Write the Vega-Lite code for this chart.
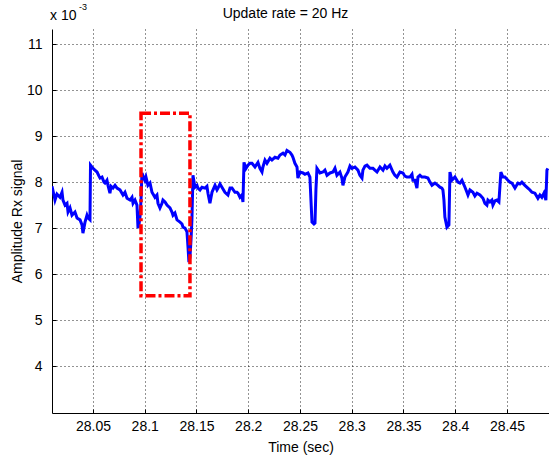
{
  "$schema": "https://vega.github.io/schema/vega-lite/v6.json",
  "width": 497,
  "height": 384,
  "autosize": {"type": "none"},
  "padding": {"left": 52, "top": 29, "right": 0, "bottom": 46},
  "background": "white",
  "config": {
    "view": {"stroke": null},
    "axis": {
      "labelFont": "Liberation Sans", "labelFontSize": 14, "labelColor": "black",
      "titleFont": "Liberation Sans", "titleFontSize": 14, "titleFontWeight": "normal", "titleColor": "black",
      "domainColor": "black", "domainWidth": 1,
      "tickColor": "black", "tickSize": -4, "tickWidth": 1,
      "grid": true, "gridColor": "#000000", "gridDash": [1, 3], "gridWidth": 1, "gridOpacity": 0.85
    }
  },
  "layer": [
    {
      "data": {"values": [
        {"time": 28.0104, "amp": 7.91}, {"time": 28.0123, "amp": 7.72}, {"time": 28.0133, "amp": 7.61}, {"time": 28.0152, "amp": 7.74},
        {"time": 28.0181, "amp": 7.67}, {"time": 28.0201, "amp": 7.78}, {"time": 28.021, "amp": 7.61}, {"time": 28.023, "amp": 7.5},
        {"time": 28.0249, "amp": 7.54}, {"time": 28.0259, "amp": 7.35}, {"time": 28.0278, "amp": 7.44}, {"time": 28.0297, "amp": 7.28},
        {"time": 28.0326, "amp": 7.35}, {"time": 28.0346, "amp": 7.22}, {"time": 28.0375, "amp": 7.18}, {"time": 28.0394, "amp": 7.07},
        {"time": 28.0403, "amp": 6.89}, {"time": 28.0423, "amp": 7.13}, {"time": 28.0442, "amp": 7.28}, {"time": 28.0452, "amp": 7.22},
        {"time": 28.0471, "amp": 7.18}, {"time": 28.0476, "amp": 8.37}, {"time": 28.05, "amp": 8.3}, {"time": 28.0519, "amp": 8.26},
        {"time": 28.0539, "amp": 8.22}, {"time": 28.0558, "amp": 8.13}, {"time": 28.0568, "amp": 8.09}, {"time": 28.0587, "amp": 8.11},
        {"time": 28.0606, "amp": 8.0}, {"time": 28.0616, "amp": 7.98}, {"time": 28.0635, "amp": 8.04}, {"time": 28.0645, "amp": 7.93},
        {"time": 28.0664, "amp": 7.76}, {"time": 28.0674, "amp": 7.91}, {"time": 28.0693, "amp": 7.87}, {"time": 28.0713, "amp": 7.93},
        {"time": 28.0732, "amp": 7.87}, {"time": 28.0761, "amp": 7.83}, {"time": 28.078, "amp": 7.76}, {"time": 28.079, "amp": 7.72},
        {"time": 28.0809, "amp": 7.78}, {"time": 28.0829, "amp": 7.65}, {"time": 28.0858, "amp": 7.61}, {"time": 28.0877, "amp": 7.67},
        {"time": 28.0887, "amp": 7.54}, {"time": 28.0906, "amp": 7.61}, {"time": 28.0925, "amp": 7.5}, {"time": 28.0935, "amp": 7.0},
        {"time": 28.0944, "amp": 7.07}, {"time": 28.0954, "amp": 7.24}, {"time": 28.0964, "amp": 7.61}, {"time": 28.0973, "amp": 8.2},
        {"time": 28.1002, "amp": 8.04}, {"time": 28.1012, "amp": 8.11}, {"time": 28.1031, "amp": 7.93}, {"time": 28.1051, "amp": 7.98},
        {"time": 28.107, "amp": 7.78}, {"time": 28.1099, "amp": 7.67}, {"time": 28.1118, "amp": 7.72}, {"time": 28.1128, "amp": 7.54},
        {"time": 28.1147, "amp": 7.44}, {"time": 28.1167, "amp": 7.54}, {"time": 28.1176, "amp": 7.61}, {"time": 28.1196, "amp": 7.57},
        {"time": 28.1215, "amp": 7.5}, {"time": 28.1244, "amp": 7.44}, {"time": 28.1263, "amp": 7.35}, {"time": 28.1273, "amp": 7.28},
        {"time": 28.1292, "amp": 7.33}, {"time": 28.1312, "amp": 7.18}, {"time": 28.1341, "amp": 7.13}, {"time": 28.136, "amp": 7.09},
        {"time": 28.137, "amp": 7.02}, {"time": 28.1389, "amp": 7.0}, {"time": 28.1408, "amp": 6.92}, {"time": 28.1418, "amp": 6.59},
        {"time": 28.1427, "amp": 6.26}, {"time": 28.1437, "amp": 6.37}, {"time": 28.1447, "amp": 6.74}, {"time": 28.1456, "amp": 7.18},
        {"time": 28.1466, "amp": 8.15}, {"time": 28.1485, "amp": 7.89}, {"time": 28.1505, "amp": 7.93}, {"time": 28.1514, "amp": 7.87},
        {"time": 28.1534, "amp": 7.83}, {"time": 28.1553, "amp": 7.89}, {"time": 28.1582, "amp": 7.87}, {"time": 28.1601, "amp": 7.91},
        {"time": 28.1611, "amp": 7.76}, {"time": 28.163, "amp": 7.54}, {"time": 28.165, "amp": 7.78}, {"time": 28.1679, "amp": 7.93},
        {"time": 28.1698, "amp": 7.83}, {"time": 28.1708, "amp": 7.87}, {"time": 28.1727, "amp": 7.96}, {"time": 28.1746, "amp": 7.89},
        {"time": 28.1775, "amp": 7.78}, {"time": 28.1804, "amp": 7.72}, {"time": 28.1824, "amp": 7.87}, {"time": 28.1843, "amp": 7.87},
        {"time": 28.1872, "amp": 7.78}, {"time": 28.1891, "amp": 7.78}, {"time": 28.1901, "amp": 7.76}, {"time": 28.192, "amp": 7.67},
        {"time": 28.1939, "amp": 7.72}, {"time": 28.1949, "amp": 7.57}, {"time": 28.1959, "amp": 8.43}, {"time": 28.1978, "amp": 8.3},
        {"time": 28.1997, "amp": 8.37}, {"time": 28.2017, "amp": 8.41}, {"time": 28.2036, "amp": 8.41}, {"time": 28.2065, "amp": 8.33},
        {"time": 28.2094, "amp": 8.43}, {"time": 28.2113, "amp": 8.3}, {"time": 28.2133, "amp": 8.22}, {"time": 28.2142, "amp": 8.33},
        {"time": 28.2162, "amp": 8.48}, {"time": 28.2181, "amp": 8.41}, {"time": 28.221, "amp": 8.52}, {"time": 28.2229, "amp": 8.48},
        {"time": 28.2258, "amp": 8.54}, {"time": 28.2287, "amp": 8.52}, {"time": 28.2307, "amp": 8.59}, {"time": 28.2336, "amp": 8.63},
        {"time": 28.2355, "amp": 8.59}, {"time": 28.2374, "amp": 8.69}, {"time": 28.2403, "amp": 8.65}, {"time": 28.2422, "amp": 8.59},
        {"time": 28.2432, "amp": 8.54}, {"time": 28.2451, "amp": 8.41}, {"time": 28.2471, "amp": 8.33}, {"time": 28.248, "amp": 8.09},
        {"time": 28.25, "amp": 8.22}, {"time": 28.2529, "amp": 8.2}, {"time": 28.2548, "amp": 8.17}, {"time": 28.2577, "amp": 8.2},
        {"time": 28.2596, "amp": 8.11}, {"time": 28.2606, "amp": 7.61}, {"time": 28.2616, "amp": 7.13}, {"time": 28.2635, "amp": 7.09},
        {"time": 28.2645, "amp": 7.11}, {"time": 28.2654, "amp": 7.83}, {"time": 28.2664, "amp": 8.3}, {"time": 28.2693, "amp": 8.2},
        {"time": 28.2722, "amp": 8.22}, {"time": 28.2741, "amp": 8.26}, {"time": 28.2761, "amp": 8.15}, {"time": 28.279, "amp": 8.2},
        {"time": 28.2819, "amp": 8.22}, {"time": 28.2838, "amp": 8.3}, {"time": 28.2857, "amp": 8.15}, {"time": 28.2886, "amp": 8.22},
        {"time": 28.2905, "amp": 8.09}, {"time": 28.2915, "amp": 7.93}, {"time": 28.2934, "amp": 8.11}, {"time": 28.2963, "amp": 8.22},
        {"time": 28.2983, "amp": 8.35}, {"time": 28.3002, "amp": 8.3}, {"time": 28.3031, "amp": 8.33}, {"time": 28.306, "amp": 8.26},
        {"time": 28.3079, "amp": 8.15}, {"time": 28.3099, "amp": 8.09}, {"time": 28.3108, "amp": 8.26}, {"time": 28.3128, "amp": 8.35},
        {"time": 28.3147, "amp": 8.37}, {"time": 28.3176, "amp": 8.3}, {"time": 28.3205, "amp": 8.3}, {"time": 28.3224, "amp": 8.26},
        {"time": 28.3244, "amp": 8.22}, {"time": 28.3273, "amp": 8.33}, {"time": 28.3302, "amp": 8.26}, {"time": 28.3321, "amp": 8.35},
        {"time": 28.334, "amp": 8.3}, {"time": 28.3369, "amp": 8.37}, {"time": 28.3398, "amp": 8.22}, {"time": 28.3417, "amp": 8.15},
        {"time": 28.3437, "amp": 8.11}, {"time": 28.3466, "amp": 8.22}, {"time": 28.3495, "amp": 8.2}, {"time": 28.3514, "amp": 8.13},
        {"time": 28.3533, "amp": 8.11}, {"time": 28.3562, "amp": 8.11}, {"time": 28.3582, "amp": 8.17}, {"time": 28.3591, "amp": 8.04},
        {"time": 28.3611, "amp": 8.04}, {"time": 28.363, "amp": 7.87}, {"time": 28.364, "amp": 8.11}, {"time": 28.3659, "amp": 8.15},
        {"time": 28.3678, "amp": 8.11}, {"time": 28.3707, "amp": 8.11}, {"time": 28.3736, "amp": 8.09}, {"time": 28.3756, "amp": 8.0},
        {"time": 28.3775, "amp": 7.93}, {"time": 28.3804, "amp": 7.98}, {"time": 28.3833, "amp": 7.93}, {"time": 28.3852, "amp": 7.89},
        {"time": 28.3871, "amp": 7.87}, {"time": 28.3881, "amp": 7.83}, {"time": 28.3891, "amp": 7.61}, {"time": 28.39, "amp": 7.24},
        {"time": 28.392, "amp": 7.02}, {"time": 28.3939, "amp": 7.07}, {"time": 28.3949, "amp": 8.22}, {"time": 28.3968, "amp": 8.04},
        {"time": 28.3997, "amp": 8.11}, {"time": 28.4026, "amp": 8.0}, {"time": 28.4045, "amp": 7.98}, {"time": 28.4065, "amp": 8.04},
        {"time": 28.4094, "amp": 7.89}, {"time": 28.4113, "amp": 7.78}, {"time": 28.4123, "amp": 7.72}, {"time": 28.4142, "amp": 7.83},
        {"time": 28.4171, "amp": 7.78}, {"time": 28.419, "amp": 7.7}, {"time": 28.421, "amp": 7.76}, {"time": 28.4239, "amp": 7.72},
        {"time": 28.4268, "amp": 7.65}, {"time": 28.4287, "amp": 7.54}, {"time": 28.4306, "amp": 7.5}, {"time": 28.4316, "amp": 7.61},
        {"time": 28.4335, "amp": 7.57}, {"time": 28.4354, "amp": 7.61}, {"time": 28.4364, "amp": 7.5}, {"time": 28.4383, "amp": 7.59},
        {"time": 28.4403, "amp": 7.61}, {"time": 28.4422, "amp": 7.57}, {"time": 28.4441, "amp": 8.22}, {"time": 28.4461, "amp": 8.11},
        {"time": 28.448, "amp": 8.11}, {"time": 28.4509, "amp": 8.04}, {"time": 28.4528, "amp": 8.0}, {"time": 28.4548, "amp": 7.98},
        {"time": 28.4577, "amp": 7.87}, {"time": 28.4606, "amp": 7.98}, {"time": 28.4625, "amp": 7.96}, {"time": 28.4644, "amp": 8.0},
        {"time": 28.4673, "amp": 7.93}, {"time": 28.4702, "amp": 7.87}, {"time": 28.4722, "amp": 7.83}, {"time": 28.4741, "amp": 7.78},
        {"time": 28.477, "amp": 7.76}, {"time": 28.4799, "amp": 7.65}, {"time": 28.4818, "amp": 7.72}, {"time": 28.4837, "amp": 7.67},
        {"time": 28.4857, "amp": 7.76}, {"time": 28.4876, "amp": 7.61}, {"time": 28.4886, "amp": 8.26}, {"time": 28.4895, "amp": 8.3}
      ]},
      "mark": {"type": "line", "color": "#0000ff", "strokeWidth": 3, "clip": true, "interpolate": "linear"},
      "encoding": {
        "x": {
          "field": "time", "type": "quantitative",
          "scale": {"domain": [28.0104, 28.4906], "nice": false, "zero": false},
          "axis": {"title": "Time (sec)", "values": [28.05, 28.1, 28.15, 28.2, 28.25, 28.3, 28.35, 28.4, 28.45], "labelExpr": "'' + datum.value", "labelPadding": 10, "titlePadding": 7}
        },
        "y": {
          "field": "amp", "type": "quantitative",
          "scale": {"domain": [2.98, 11.33], "nice": false, "zero": false},
          "axis": {"title": "Amplitude Rx signal", "values": [4, 5, 6, 7, 8, 9, 10, 11], "labelPadding": 14, "titlePadding": 2}
        }
      }
    },
    {
      "data": {"values": [{"time": 28.0964, "time_end": 28.1437, "amp": 5.53, "amp_end": 9.5}]},
      "mark": {"type": "rect", "filled": false, "stroke": "#ff0000", "strokeWidth": 3.5, "strokeDash": [10, 3, 3, 3]},
      "encoding": {
        "x": {"field": "time", "type": "quantitative"},
        "x2": {"field": "time_end"},
        "y": {"field": "amp", "type": "quantitative"},
        "y2": {"field": "amp_end"}
      }
    },
    {
      "data": {"values": [{"label": "Update rate = 20 Hz"}]},
      "mark": {"type": "text", "font": "Liberation Sans", "fontSize": 14, "color": "black", "align": "center", "baseline": "alphabetic", "dx": -15, "dy": -11, "clip": false},
      "encoding": {
        "x": {"datum": 28.2505, "type": "quantitative"},
        "y": {"datum": 11.33, "type": "quantitative"},
        "text": {"field": "label"}
      }
    },
    {
      "data": {"values": [{"label": "x 10"}]},
      "mark": {"type": "text", "font": "Liberation Sans", "fontSize": 14, "color": "black", "align": "left", "baseline": "alphabetic", "dx": -2, "dy": -9, "clip": false},
      "encoding": {
        "x": {"datum": 28.0104, "type": "quantitative"},
        "y": {"datum": 11.33, "type": "quantitative"},
        "text": {"field": "label"}
      }
    },
    {
      "data": {"values": [{"label": "-3"}]},
      "mark": {"type": "text", "font": "Liberation Sans", "fontSize": 9, "color": "black", "align": "left", "baseline": "alphabetic", "dx": 27, "dy": -19, "clip": false},
      "encoding": {
        "x": {"datum": 28.0104, "type": "quantitative"},
        "y": {"datum": 11.33, "type": "quantitative"},
        "text": {"field": "label"}
      }
    }
  ]
}
